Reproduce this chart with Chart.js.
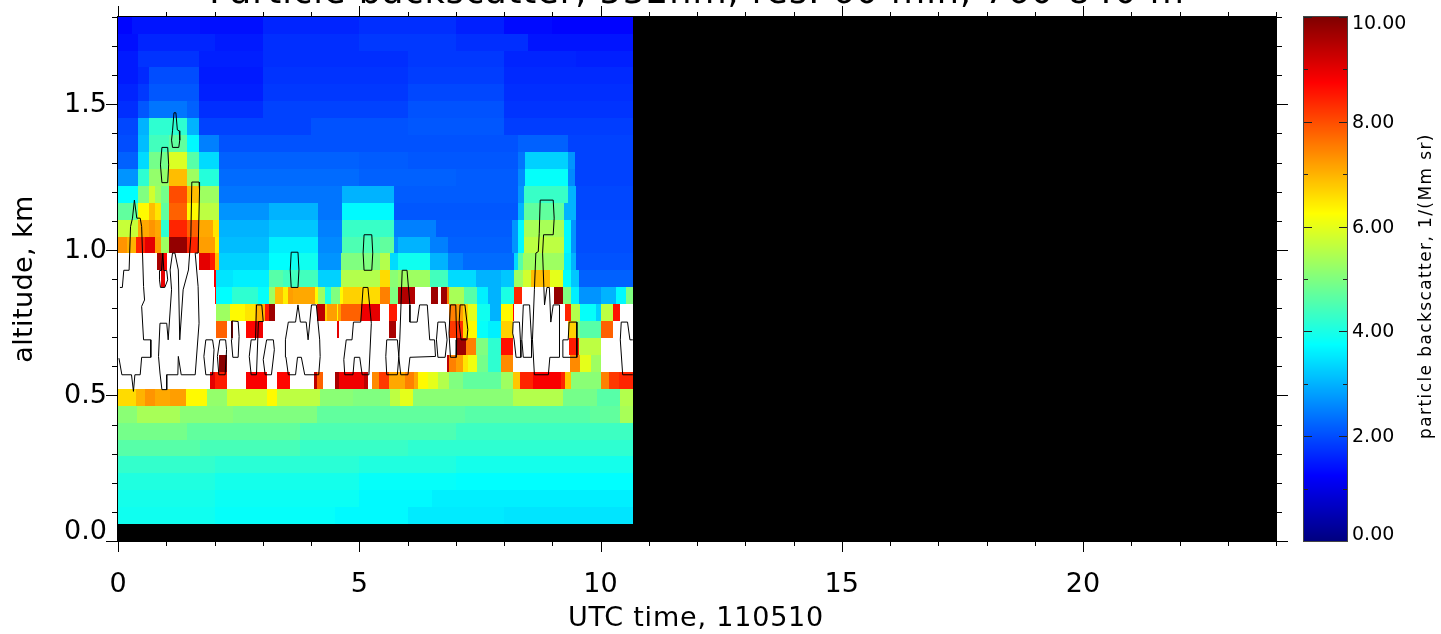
<!DOCTYPE html>
<html>
<head>
<meta charset="utf-8">
<title>Particle backscatter</title>
<script src="https://cdn.jsdelivr.net/npm/chart.js@4"></script>
<style>
  html, body { margin: 0; padding: 0; background: #fff; overflow: hidden; }
  #mainChart { position: absolute; left: 0; top: 0; }
  #barChart { position: absolute; left: 1296px; top: 0; }
</style>
</head>
<body>
<canvas id="mainChart" width="1441" height="634"></canvas>
<canvas id="barChart" width="145" height="634"></canvas>
<script>
// Backscatter values, one list per altitude row (row00 = lowest).
// Each row is a list of [end hour, value] runs; W = above colour range, drawn white.
const W = 11;
const row00 = [[2,3.9],[4.5,3.8],[6,3.7],[8,3.55],[10.67,3.5]];
const row01 = [[2,3.95],[5,3.85],[6.5,3.7],[10.67,3.6]];
const row02 = [[2,4.05],[5,3.95],[7,3.8],[10.67,3.75]];
const row03 = [[2,4.25],[5,4.15],[7,4.05],[10.67,3.95]];
const row04 = [[1.7,4.6],[3.77,4.45],[6,4.3],[10.67,4.2]];
const row05 = [[1.42,4.9],[3.77,4.7],[7,4.5],[10.67,4.35]];
const row06 = [[.39,5.1],[1.29,5.4],[2.39,5.1],[4.12,5],[7.2,4.7],[9.78,4.6],[10.4,4.7],[10.67,5.4]];
const row07 = [[.37,6.6],[.56,7],[.77,7.3],[1.08,7.1],[1.41,7.2],[1.84,6.3],[2.25,5.2],[3.08,5.8],[3.29,6.3],[4.19,5.6],[4.88,5.1],[5.64,5],[5.84,5.6],[6.12,6],[8.19,5.1],[9.23,5.5],[9.92,4.9],[10.4,4.6],[10.67,5.5]];
const row08 = [[1.91,W],[2.01,9],[2.25,8.5],[2.65,W],[3.08,8.8],[3.3,W],[3.56,8.7],[4.06,W],[4.12,9.4],[4.25,7.8],[4.49,W],[4.58,9.6],[5.1,8.9],[5.18,9.4],[5.27,W],[5.41,7.4],[5.62,8.2],[5.94,7.1],[6.13,7.5],[6.22,7.1],[6.42,6.3],[6.63,6],[6.87,5.5],[7.15,5],[7.94,4.7],[8.18,5.3],[8.34,6.8],[8.6,8.4],[9.18,8.8],[9.27,8.4],[9.38,6.8],[10,5.1],[10.18,7.5],[10.39,8.2],[10.67,8.4]];
const row09 = [[2.09,W],[2.25,9.9],[6.82,W],[6.86,9.4],[7,7.5],[7.15,7.2],[7.25,6.5],[7.45,6.1],[7.66,4.9],[7.94,4.2],[8.18,7.4],[9.37,W],[9.58,7.4],[9.8,6],[10,5.3],[10.67,W]];
const row10 = [[7,W],[7.22,9.7],[7.42,7.5],[7.66,5],[7.94,4.2],[8.18,8.6],[9.35,W],[9.56,8.5],[10,5.6],[10.01,8.7],[10.67,W]];
const row11 = [[2.04,W],[2.25,7.8],[2.35,W],[2.39,9.7],[2.65,W],[2.84,8.7],[3.01,8.9],[4.53,W],[4.58,9],[5.62,W],[5.77,9.6],[6.86,W],[7,8.2],[7.15,8.3],[7.25,6.6],[7.45,6.3],[7.66,3.8],[7.94,3.6],[8.18,6.7],[9.33,W],[9.5,6.7],[9.58,5],[10,4.6],[10.25,7.8],[10.67,W]];
const row12 = [[2.04,W],[2.32,5.3],[2.63,6.3],[2.84,6.5],[3.05,7],[3.12,8.5],[3.25,9.7],[4.13,W],[4.28,9.4],[4.33,6.7],[4.53,7.2],[4.56,6.3],[4.62,7.2],[5.04,7.8],[5.25,8.9],[5.42,9],[5.62,W],[5.78,8.5],[6.86,W],[7,7.5],[7.15,7.2],[7.25,6.7],[7.45,6],[7.7,3.9],[7.94,3],[8.18,6.3],[8.2,8.7],[9.27,W],[9.38,8.4],[9.58,5.5],[9.9,3.8],[10,3.3],[10.25,5.6],[10.41,8.6],[10.67,W]];
const row13 = [[2.01,W],[2.04,8.7],[2.36,3.75],[2.91,4.2],[3.12,3.8],[3.25,5.3],[3.43,6.9],[3.53,6.4],[3.63,7.2],[4.08,7.1],[4.15,6.3],[4.28,5.3],[4.42,4],[4.6,5],[4.66,6.3],[5.04,6.7],[5.42,6.6],[5.63,7.5],[5.8,5],[6.15,9.5],[6.49,W],[6.63,9.7],[6.7,W],[6.82,9.7],[6.86,7.5],[7.18,5.4],[7.45,4.6],[7.66,3.6],[7.94,3],[8.2,4],[8.37,8.4],[9.04,W],[9.22,9.8],[9.39,5],[9.56,3.6],[10.01,2.7],[10.32,3],[10.53,3.7],[10.67,5]];
const row14 = [[.9,W],[.98,9],[1.99,W],[2.04,8.8],[2.38,3.5],[3.12,3.6],[3.43,4.6],[4.15,4.4],[4.63,3.3],[5.42,5.5],[5.63,6.6],[5.8,5.1],[6.46,5.3],[6.84,4.4],[7.42,3.4],[7.94,3],[8.2,3.2],[8.39,5.3],[8.56,5.8],[8.96,6.9],[9.22,6],[9.39,3.8],[9.56,3.2],[10.67,2.2]];
const row15 = [[.8,W],[.94,9.6],[1.01,8.7],[1.68,W],[1.91,9],[2.01,8.5],[2.09,6.9],[3.13,3.3],[3.56,3.75],[4.15,3.9],[4.63,2.7],[5.42,5],[5.63,5.5],[5.8,3.4],[6.46,3.9],[6.84,3],[7.15,2.5],[8.21,2.3],[8.3,3.4],[8.4,4.6],[9.25,5.3],[9.39,3.6],[9.49,3],[10.67,2.05]];
const row16 = [[.18,7.3],[.37,7],[.56,8.4],[.77,9],[.89,7.2],[1.06,5.3],[1.44,9.8],[1.68,8.4],[2,7.2],[2.09,6.4],[3.13,3.1],[4.15,3.6],[4.64,2.6],[5.43,4.5],[5.71,4.7],[5.8,2.7],[6.46,3],[6.84,2.5],[8.17,2.2],[8.28,2.7],[8.42,3.7],[9.25,5.6],[9.39,3.7],[9.49,2.7],[10.67,2]];
const row17 = [[.41,5.7],[.64,7.1],[.77,7.3],[.89,7.1],[1.06,4.2],[1.44,8.4],[1.68,7.8],[1.97,7.1],[2.09,6.5],[3.13,3],[4.15,3.2],[4.64,2.5],[5.71,4.3],[6.6,2.5],[8.17,2.15],[8.28,2.7],[8.42,3.7],[9.25,5.4],[9.39,3.7],[9.49,2.7],[10.67,2]];
const row18 = [[.41,4.7],[.64,6.3],[.77,6.9],[.89,6.5],[1.06,4.7],[1.44,7.8],[1.68,6.3],[2.09,5.6],[3.13,2.7],[4.15,3],[4.64,2.4],[5.71,3.7],[8.28,2.1],[8.42,3],[9.25,4.7],[9.49,3],[10.67,1.95]];
const row19 = [[.41,3.75],[.64,5],[.77,5.8],[.89,5.3],[1.06,4.9],[1.44,8],[1.68,6.9],[2.09,5.3],[4.64,2.4],[5.71,3],[8.28,2.15],[8.42,2.7],[9.32,4.3],[9.49,3],[10.67,1.95]];
const row20 = [[.41,2.7],[.64,4.2],[1.06,5.2],[1.44,6.9],[1.68,5.3],[2.09,4.1],[5,2.3],[7,2.2],[8.29,2.15],[8.43,2.6],[9.33,3.8],[9.47,2.6],[10.67,1.9]];
const row21 = [[.41,2.2],[.64,3.4],[1.06,4.9],[1.44,5.9],[1.68,4.6],[2.09,3.4],[5,2.2],[6,2.15],[8.29,2.1],[8.43,2.4],[9.33,3.3],[9.47,2.7],[10.67,1.9]];
const row22 = [[.41,2],[.64,3.1],[1.06,4.4],[1.44,4.7],[1.68,3.7],[2.09,2.5],[4,2.05],[8.29,2.05],[9.33,2.2],[10.67,1.9]];
const row23 = [[.41,1.95],[.64,3],[1.44,4.2],[1.68,3],[4,1.9],[6,2.05],[8,2.1],[10.67,1.85]];
const row24 = [[.41,1.7],[.64,2.1],[1.44,2.4],[1.68,2.2],[3,1.7],[6,1.9],[8,2.05],[10.67,1.75]];
const row25 = [[.41,1.6],[.64,1.8],[1.68,2.1],[3,1.55],[6,1.8],[8,1.95],[10.67,1.7]];
const row26 = [[.41,1.5],[.64,1.65],[1.68,2],[3,1.5],[6,1.75],[8,1.85],[10.67,1.65]];
const row27 = [[.41,1.5],[1.68,1.75],[3,1.55],[6,1.7],[8,1.8],[9.5,1.6],[10.67,1.55]];
const row28 = [[.41,1.4],[2,1.6],[3,1.5],[5,1.7],[7,1.8],[8.5,1.7],[10.67,1.45]];
const row29 = [[.3,1.3],[1.7,1.45],[3,1.4],[5,1.6],[7,1.7],[8,1.55],[9,1.35],[10.67,1.28]];
const rows = [row00,row01,row02,row03,row04,row05,row06,row07,row08,row09,row10,row11,row12,row13,row14,row15,
  row16,row17,row18,row19,row20,row21,row22,row23,row24,row25,row26,row27,row28,row29];

// Altitude grid in km
const lowestAltitude = 0.058;
const rowDepth = 0.0581;

// Contour lines, [hour, km]
const contourA = [[.04,.871],[.09,.871],[.12,.93],[.23,.93],[.26,1.08],[.3,1.109],[.34,1.171],[.39,1.109],[.46,1.109],[.49,1.08],[.53,.874],[.55,.828],[.49,.806],[.53,.691],[.68,.691],[.68,.631],[.49,.631],[.46,.571],[.35,.571],[.32,.514],[.28,.571],[.08,.571],[.02,.628],[0,.628]];
const contourB = [[.87,.748],[1.01,.748],[1.04,.691],[1.11,.863],[1.08,.931],[1.13,.989],[1.18,.989],[1.25,.931],[1.28,.691],[1.35,.863],[1.46,.931],[1.51,1.046],[1.53,1.233],[1.68,1.233],[1.69,1.206],[1.66,.989],[1.6,.989],[1.66,.874],[1.68,.748],[1.6,.571],[1.31,.571],[1.25,.634],[1.24,.571],[1.01,.571],[1.01,.52],[.91,.52],[.87,.577],[.84,.634],[.87,.748]];
const contourC = [[.86,.929],[.9,.929],[.93,.989],[.95,.929],[1.01,.929],[1.03,.897],[.97,.871],[.88,.871],[.86,.897],[.86,.929]];
const contourD = [[1.82,.691],[1.96,.691],[1.99,.657],[1.96,.571],[1.82,.571],[1.78,.634],[1.82,.691]];
const contourE = [[2.11,.691],[2.23,.691],[2.25,.657],[2.22,.571],[2.09,.571],[2.06,.634],[2.11,.691]];
const contourF = [[2.36,.756],[2.49,.754],[2.51,.703],[2.49,.631],[2.38,.631],[2.35,.691],[2.36,.756]];
const contourG = [[2.87,.811],[2.98,.811],[3.01,.754],[2.91,.754],[2.87,.571],[2.76,.571],[2.72,.634],[2.76,.691],[2.85,.691],[2.87,.811]];
const contourH = [[3.08,.691],[3.22,.691],[3.24,.657],[3.18,.571],[3.05,.571],[3.01,.623],[3.08,.691]];
const contourI = [[3.53,.752],[3.68,.752],[3.73,.811],[3.78,.752],[3.9,.752],[3.94,.691],[4.01,.811],[4.11,.811],[4.18,.691],[4.19,.634],[4.16,.571],[3.87,.571],[3.8,.631],[3.72,.631],[3.68,.571],[3.53,.571],[3.48,.632],[3.47,.691],[3.53,.752]];
const contourJ = [[3.59,.992],[3.73,.992],[3.75,.931],[3.73,.871],[3.59,.871],[3.57,.931],[3.59,.992]];
const contourK = [[5.1,1.052],[5.26,1.052],[5.28,.989],[5.26,.93],[5.1,.93],[5.08,.989],[5.1,1.052]];
const contourL = [[5.08,.871],[5.18,.871],[5.25,.748],[5.2,.571],[5.06,.571],[5.01,.631],[4.9,.631],[4.87,.571],[4.7,.571],[4.68,.623],[4.73,.691],[4.85,.691],[4.88,.752],[5.03,.752],[5.08,.871]];
const contourM = [[5.57,.691],[5.79,.691],[5.82,.634],[5.79,.571],[5.57,.571],[5.55,.634],[5.57,.691]];
const contourN = [[5.89,.93],[5.99,.93],[6.05,.811],[6.05,.752],[6.2,.752],[6.25,.811],[6.41,.811],[6.46,.691],[6.56,.691],[6.58,.634],[6.05,.631],[6.01,.571],[5.86,.571],[5.82,.634],[5.84,.691],[5.89,.93]];
const contourO = [[6.63,.752],[6.78,.752],[6.82,.691],[6.78,.631],[6.63,.631],[6.6,.691],[6.63,.752]];
const contourP = [[6.89,.811],[7,.811],[7.02,.691],[7.01,.631],[6.89,.631],[6.86,.714],[6.89,.811]];
const contourQ = [[7.09,.811],[7.19,.811],[7.25,.726],[7.23,.691],[7.11,.691],[7.07,.748],[7.09,.811]];
const contourR = [[8.19,.752],[8.32,.752],[8.34,.691],[8.35,.631],[8.25,.631],[8.21,.691],[8.18,.714],[8.19,.752]];
const contourS = [[8.4,.811],[8.53,.811],[8.57,.691],[8.57,.631],[8.4,.631],[8.37,.691],[8.4,.811]];
const contourT = [[8.75,1.171],[8.73,1.057],[8.71,.994],[8.66,.989],[8.63,.863],[8.59,.691],[8.63,.571],[8.92,.571],[8.95,.631],[9.15,.631],[9.15,.811],[9.02,.811],[8.97,.752],[8.94,.871],[8.89,.871],[8.84,.811],[8.8,.989],[8.82,1.052],[9.02,1.052],[9.04,1.109],[9.02,1.171],[8.75,1.171]];
const contourU = [[9.35,.752],[9.51,.752],[9.51,.631],[9.22,.631],[9.22,.691],[9.33,.691],[9.35,.752]];
const contourV = [[10.67,.691],[10.61,.691],[10.56,.752],[10.43,.752],[10.41,.691],[10.46,.571],[10.67,.571]];
const contourX = [[1.16,1.471],[1.2,1.471],[1.23,1.412],[1.27,1.409],[1.28,1.377],[1.26,1.352],[1.13,1.352],[1.11,1.377],[1.13,1.409],[1.16,1.471]];
const contourY = [[.91,1.352],[1.03,1.352],[1.05,1.292],[1.03,1.231],[.91,1.231],[.88,1.292],[.91,1.352]];
const contours = [contourA,contourB,contourC,contourD,contourE,contourF,contourG,contourH,contourI,contourJ,contourK,contourL,
  contourM,contourN,contourO,contourP,contourQ,contourR,contourS,contourT,contourU,contourV,contourX,contourY];

// Axis ticks and text
const xMajor = [0, 5, 10, 15, 20];
const xMinor = [1,2,3,4,6,7,8,9,11,12,13,14,16,17,18,19,21,22,23,24];
const yMajor = [0, 0.5, 1.0, 1.5];
const yMinor = [.1,.2,.3,.4,.6,.7,.8,.9,1.1,1.2,1.3,1.4,1.6,1.7,1.8];
const barMajor = [0, 2, 4, 6, 8, 10];
const barMinor = [1, 3, 5, 7, 9];
const titleText = 'Particle backscatter, 532nm, res. 60 min, 760-840 m';
const xTitle = 'UTC time, 110510';
const yTitle = 'altitude, km';
const barTitle = 'particle backscatter, 1/(Mm sr)';
const FONT = '"DejaVu Sans"';

// Standard jet colour table over 0..10, white above the top
function jet(v) {
  if (v > 10) return '#ffffff';
  const t = Math.max(0, v / 10);
  const ramp = c => Math.round(255 * Math.max(0, Math.min(1, 1.5 - Math.abs(4 * t - c))));
  return `rgb(${ramp(3)},${ramp(2)},${ramp(1)})`;
}

// Draws the black no-data area and the backscatter cells
const heatmapPlugin = {
  id: 'heatmap',
  beforeDatasetsDraw(chart) {
    const { ctx, chartArea: a, scales: { x, y } } = chart;
    ctx.save();
    ctx.fillStyle = '#000';
    ctx.fillRect(a.left, a.top, a.right - a.left, a.bottom - a.top);
    rows.forEach((row, r) => {
      const yBottom = Math.round(y.getPixelForValue(lowestAltitude + r * rowDepth));
      const yTop = Math.round(y.getPixelForValue(lowestAltitude + (r + 1) * rowDepth));
      let start = 0;
      row.forEach(([end, value]) => {
        const x0 = Math.round(x.getPixelForValue(start));
        const x1 = Math.round(x.getPixelForValue(end));
        ctx.fillStyle = jet(value);
        ctx.fillRect(x0, yTop, x1 - x0, yBottom - yTop);
        start = end;
      });
    });
    ctx.restore();
  }
};

function hLine(ctx, x0, x1, y) {
  ctx.beginPath();
  ctx.moveTo(x0, Math.round(y) + 0.5);
  ctx.lineTo(x1, Math.round(y) + 0.5);
  ctx.stroke();
}
function vLine(ctx, x, y0, y1) {
  ctx.beginPath();
  ctx.moveTo(Math.round(x) + 0.5, y0);
  ctx.lineTo(Math.round(x) + 0.5, y1);
  ctx.stroke();
}

// Outward ticks on all four sides, frame and the text outside the scales
const framePlugin = {
  id: 'frame',
  afterDraw(chart) {
    const { ctx, chartArea: a, scales: { x, y } } = chart;
    ctx.save();
    ctx.strokeStyle = '#000';
    ctx.lineWidth = 1;
    xMajor.forEach(v => {
      const p = x.getPixelForValue(v);
      vLine(ctx, p, a.bottom, a.bottom + 11);
      vLine(ctx, p, a.top - 11, a.top);
    });
    xMinor.forEach(v => {
      const p = x.getPixelForValue(v);
      vLine(ctx, p, a.bottom, a.bottom + 5);
      vLine(ctx, p, a.top - 5, a.top);
    });
    yMajor.forEach(v => {
      const p = y.getPixelForValue(v);
      hLine(ctx, a.left - 12, a.left, p);
      hLine(ctx, a.right, a.right + 12, p);
    });
    yMinor.forEach(v => {
      const p = y.getPixelForValue(v);
      hLine(ctx, a.left - 6, a.left, p);
      hLine(ctx, a.right, a.right + 6, p);
    });
    ctx.strokeRect(a.left - 0.5, a.top - 0.5, a.right - a.left + 1, a.bottom - a.top + 1);

    ctx.fillStyle = '#000';
    // altitude labels; the lowest one sits above its tick
    ctx.font = `27px ${FONT}`;
    ctx.textAlign = 'right';
    ctx.textBaseline = 'middle';
    yMajor.forEach(v => {
      ctx.fillText(v.toFixed(1), 107, y.getPixelForValue(v) + (v === 0 ? -9 : 1));
    });

    ctx.textAlign = 'center';
    ctx.textBaseline = 'alphabetic';
    ctx.letterSpacing = '0.8px';
    ctx.fillText(xTitle, 696, 626);
    // title runs off the top of the page in the original
    ctx.save();
    ctx.font = `35px ${FONT}`;
    ctx.letterSpacing = '1px';
    ctx.fillText(titleText, (a.left + a.right) / 2, 3);
    ctx.restore();
    ctx.translate(32, 279);
    ctx.rotate(-Math.PI / 2);
    ctx.letterSpacing = '0.4px';
    ctx.fillText(yTitle, 0, 0);
    ctx.restore();
  }
};

new Chart(document.getElementById('mainChart'), {
  type: 'scatter',
  data: {
    datasets: contours.map(line => ({
      data: line.map(([h, km]) => ({ x: h, y: km })),
      showLine: true,
      borderColor: '#000',
      borderWidth: 1,
      pointRadius: 0,
      tension: 0
    }))
  },
  options: {
    responsive: false,
    animation: false,
    layout: { padding: { top: 17, right: 165, left: 0, bottom: 0 } },
    plugins: { legend: { display: false }, tooltip: { enabled: false }, title: { display: false } },
    scales: {
      x: {
        type: 'linear', min: 0, max: 24,
        afterFit: s => { s.height = 93; s.paddingLeft = 0; s.paddingRight = 0; },
        grid: { display: false },
        border: { display: false },
        ticks: {
          stepSize: 5, padding: 20, color: '#000', maxRotation: 0,
          font: { family: FONT, size: 27 },
          callback: v => xMajor.includes(v) ? String(v) : ''
        }
      },
      y: {
        type: 'linear', min: 0, max: 1.8,
        afterFit: s => { s.width = 118; s.paddingTop = 0; s.paddingBottom = 0; },
        grid: { display: false },
        border: { display: false },
        ticks: { display: false, stepSize: 0.5 }
      }
    }
  },
  plugins: [heatmapPlugin, framePlugin]
});

// Colour bar with its own value scale
const colourBarPlugin = {
  id: 'colourBar',
  beforeDatasetsDraw(chart) {
    const { ctx, chartArea: a, scales: { y } } = chart;
    ctx.save();
    for (let p = Math.round(a.top); p < a.bottom; p++) {
      ctx.fillStyle = jet(Math.min(10, y.getValueForPixel(p + 0.5)));
      ctx.fillRect(a.left, p, a.right - a.left, 1);
    }
    ctx.restore();
  },
  afterDraw(chart) {
    const { ctx, chartArea: a, scales: { y } } = chart;
    ctx.save();
    ctx.strokeStyle = '#222';
    ctx.lineWidth = 1;
    barMajor.forEach(v => {
      const p = y.getPixelForValue(v);
      hLine(ctx, a.left, a.left + 8, p);
      hLine(ctx, a.right - 8, a.right, p);
    });
    barMinor.forEach(v => {
      const p = y.getPixelForValue(v);
      hLine(ctx, a.left, a.left + 4, p);
      hLine(ctx, a.right - 4, a.right, p);
    });
    ctx.strokeStyle = '#444';
    ctx.strokeRect(a.left - 0.5, a.top - 0.5, a.right - a.left + 1, a.bottom - a.top + 1);
    ctx.fillStyle = '#000';
    // end labels sit inside the bar's height
    ctx.font = `19px ${FONT}`;
    ctx.textAlign = 'left';
    ctx.textBaseline = 'middle';
    barMajor.forEach(v => {
      const shift = v === 10 ? 7 : v === 0 ? -6 : 1;
      ctx.fillText(v.toFixed(2), a.right + 5, y.getPixelForValue(v) + shift);
    });
    ctx.textAlign = 'center';
    ctx.textBaseline = 'alphabetic';
    ctx.font = `17px ${FONT}`;
    ctx.letterSpacing = '1.4px';
    ctx.translate(1431 - 1296, 286);
    ctx.rotate(-Math.PI / 2);
    ctx.fillText(barTitle, 0, 0);
    ctx.restore();
  }
};

new Chart(document.getElementById('barChart'), {
  type: 'scatter',
  data: { datasets: [{ data: [] }] },
  options: {
    responsive: false,
    animation: false,
    layout: { padding: { top: 17, bottom: 93, left: 8, right: 0 } },
    plugins: { legend: { display: false }, tooltip: { enabled: false } },
    scales: {
      x: { display: false },
      y: {
        type: 'linear', position: 'right', min: 0, max: 10,
        afterFit: s => { s.width = 94; s.paddingTop = 0; s.paddingBottom = 0; },
        grid: { display: false },
        border: { display: false },
        ticks: { display: false, stepSize: 2 }
      }
    }
  },
  plugins: [colourBarPlugin]
});
</script>
</body>
</html>
